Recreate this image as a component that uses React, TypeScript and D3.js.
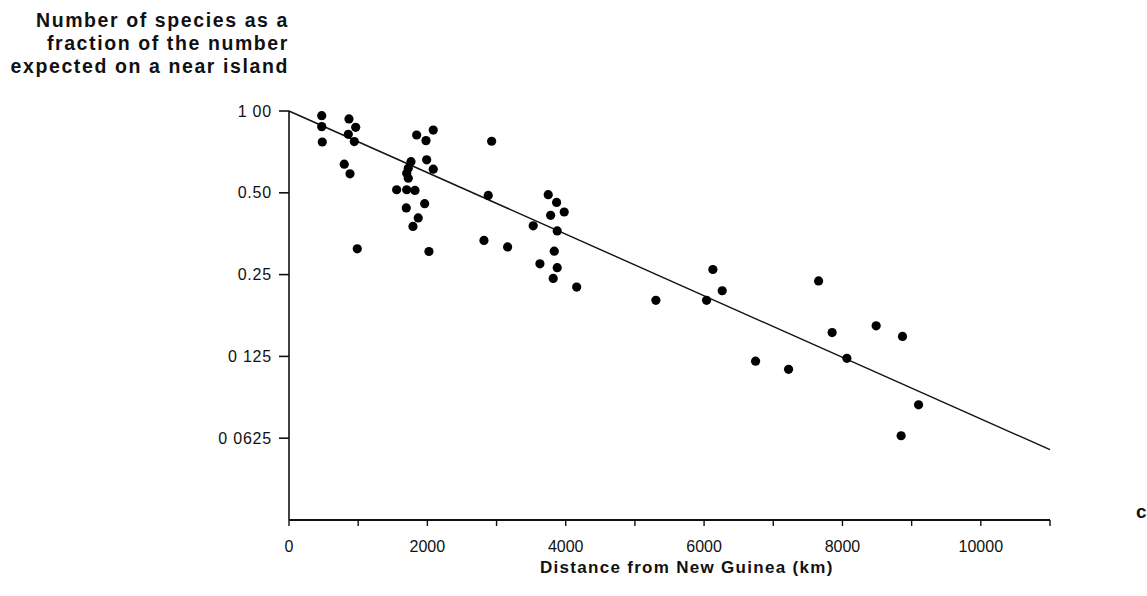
import React, { useEffect, useRef } from "react";
import * as d3 from "d3";

// distance from New Guinea (km) and species fraction
const distance = [
  473, 473, 481, 867, 964, 857, 944, 799, 882, 987,
  1845, 2085, 1980, 2929, 1763, 1990, 2085, 1724, 1701, 1724,
  1556, 1701, 1821, 1695, 1961, 1868, 1792, 2023, 2818, 2880,
  3747, 3868, 3782, 3978, 3530, 3877, 3160, 3834, 3627, 3877,
  3819, 4158, 5303, 6127, 6262, 6036, 7655, 6744, 7221, 7851,
  8064, 8487, 8868, 9100, 8848,
];
const fraction = [
  0.961, 0.876, 0.769, 0.935, 0.871, 0.821, 0.772, 0.637, 0.587, 0.311,
  0.816, 0.851, 0.778, 0.774, 0.651, 0.661, 0.611, 0.616, 0.59, 0.566,
  0.513, 0.513, 0.51, 0.44, 0.456, 0.404, 0.376, 0.304, 0.334, 0.489,
  0.492, 0.461, 0.413, 0.425, 0.378, 0.362, 0.316, 0.305, 0.274, 0.265,
  0.242, 0.225, 0.201, 0.261, 0.218, 0.201, 0.237, 0.12, 0.112, 0.153,
  0.123, 0.162, 0.148, 0.0829, 0.0638,
];

// fitted line
const fitX = [0, 11000];
const fitY = [1.0, 0.0567];

const yTicks = [1, 0.5, 0.25, 0.125, 0.0625];
const yTickLabels = ["1 00", "0.50", "0.25", "0 125", "0 0625"];
const xTicks = [0, 1000, 2000, 3000, 4000, 5000, 6000, 7000, 8000, 9000, 10000, 11000];
const xTickLabels = ["0", "2000", "4000", "6000", "8000", "10000"];

const titleLines = [
  "Number of species as a",
  "fraction of the number",
  "expected on a near island",
];

const W = 1147;
const H = 596;
const font = "'Liberation Sans', Arial, Helvetica, sans-serif";

export default function App() {
  const ref = useRef<SVGSVGElement>(null);

  useEffect(() => {
    const svg = d3.select(ref.current);
    svg.selectAll("*").remove();

    const x = d3.scaleLinear().domain([0, 11000]).range([289, 1050]);
    const y = d3.scaleLog().base(2).domain([0.03125, 1]).range([520, 111]);

    // y axis
    const gy = svg.append("g").attr("transform", "translate(289,0)");
    gy.append("line")
      .attr("x1", 0).attr("x2", 0)
      .attr("y1", y(1)).attr("y2", y(0.03125))
      .attr("stroke", "#111").attr("stroke-width", 1.6);
    gy.selectAll("line.tick")
      .data(yTicks)
      .enter()
      .append("line")
      .attr("class", "tick")
      .attr("x1", -10).attr("x2", 0)
      .attr("y1", (d) => y(d)).attr("y2", (d) => y(d))
      .attr("stroke", "#111").attr("stroke-width", 1.6);
    gy.selectAll("text")
      .data(yTicks)
      .enter()
      .append("text")
      .attr("x", -17)
      .attr("y", (d) => y(d))
      .attr("dy", "0.35em")
      .attr("text-anchor", "end")
      .attr("font-size", 16)
      .attr("letter-spacing", 0.8)
      .attr("font-family", font)
      .attr("fill", "#111")
      .text((d, i) => yTickLabels[i]);

    // x axis
    const gx = svg.append("g").attr("transform", "translate(0,520)");
    gx.append("line")
      .attr("x1", x(0)).attr("x2", x(11000))
      .attr("y1", 0).attr("y2", 0)
      .attr("stroke", "#111").attr("stroke-width", 1.8);
    gx.selectAll("line.tick")
      .data(xTicks)
      .enter()
      .append("line")
      .attr("class", "tick")
      .attr("x1", (d) => x(d)).attr("x2", (d) => x(d))
      .attr("y1", 0).attr("y2", 6)
      .attr("stroke", "#111").attr("stroke-width", 1.4);
    gx.selectAll("text")
      .data(xTickLabels)
      .enter()
      .append("text")
      .attr("x", (d) => x(+d))
      .attr("y", 32)
      .attr("text-anchor", "middle")
      .attr("font-size", 16)
      .attr("font-family", font)
      .attr("fill", "#111")
      .text((d) => d);

    svg.append("text")
      .attr("x", x(5750))
      .attr("y", 573)
      .attr("text-anchor", "middle")
      .attr("font-size", 17)
      .attr("letter-spacing", 1.3)
      .attr("font-weight", "bold")
      .attr("font-family", font)
      .attr("fill", "#111")
      .text("Distance from New Guinea (km)");

    // y title
    svg.selectAll("text.title")
      .data(titleLines)
      .enter()
      .append("text")
      .attr("class", "title")
      .attr("x", 289)
      .attr("y", (d, i) => 27 + i * 23)
      .attr("text-anchor", "end")
      .attr("font-size", 19.5)
      .attr("letter-spacing", 1.6)
      .attr("font-weight", "bold")
      .attr("font-family", font)
      .attr("fill", "#111")
      .text((d) => d);

    // fitted line
    const line = d3.line<number>()
      .x((d) => x(d))
      .y((d, i) => y(fitY[i]));
    svg.append("path")
      .datum(fitX)
      .attr("d", line)
      .attr("fill", "none")
      .attr("stroke", "#111")
      .attr("stroke-width", 1.4);

    // points
    svg.selectAll("circle")
      .data(distance)
      .enter()
      .append("circle")
      .attr("cx", (d) => x(d))
      .attr("cy", (d, i) => y(fraction[i]))
      .attr("r", 4.6)
      .attr("fill", "#000");

    // panel letter, cut at the right edge
    svg.append("text")
      .attr("x", 1136)
      .attr("y", 518)
      .attr("font-size", 19)
      .attr("font-weight", "bold")
      .attr("font-family", font)
      .attr("fill", "#111")
      .text("c");
  }, []);

  return (
    <div style={{ position: "absolute", left: 0, top: 0 }}>
      <svg ref={ref} width={W} height={H} style={{ display: "block", background: "#fff" }} />
    </div>
  );
}
